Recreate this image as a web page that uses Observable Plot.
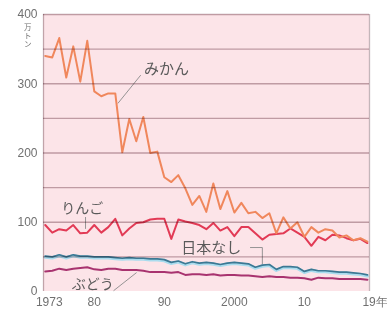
<!DOCTYPE html>
<html><head><meta charset="utf-8">
<script src="https://cdn.jsdelivr.net/npm/d3@7"></script>
<script src="https://cdn.jsdelivr.net/npm/@observablehq/plot@0.6"></script>
<style>
html,body{margin:0;padding:0;background:#fff;}
svg{display:block;}
</style>
</head><body>
<div id="chart"></div>
<script>
const years = [1973,1974,1975,1976,1977,1978,1979,1980,1981,1982,1983,1984,1985,1986,1987,1988,1989,1990,1991,1992,1993,1994,1995,1996,1997,1998,1999,2000,2001,2002,2003,2004,2005,2006,2007,2008,2009,2010,2011,2012,2013,2014,2015,2016,2017,2018,2019];
const mikan = [340,338,366,309,354,303,362,289,282,286,286,201,249,217,252,200,202,165,158,168,149,125,138,115,156,119,145,114,128,113,115,106,113,84,107,91,100,79,93,85,90,88,78,81,74,77,72];
const ringo = [96,85,90,88,96,84,85,96,85,93,105,81,91,99,100,104,105,105,76,104,101,99,96,90,99,88,93,80,93,93,84,75,82,83,84,91,85,79,66,79,74,82,81,77,74,76,70];
const nashi = [51,50,53,50,53,51,51,50,50,50,49,48,49,48,48,47,47,46,42,44,40,43,41,42,41,39,41,42,41,40,35,38,39,32,36,36,35,29,32,30,30,29,28,28,27,26,24];
const budo = [29,30,33,31,33,34,35,32,31,33,33,31,31,31,30,28,28,28,27,28,24,25,25,24,25,23,24,24,23,23,22,21,22,21,21,20,20,19,17,20,19,19,18,18,18,18,17];

const yTicks = [0,100,200,300,400];
const gridValues = [50,100,150,200,250,300,350,400];
const xTicks = [1980,1990,2000,2010];
const xTickLabels = {1973:"1973",1980:"80",1990:"90",2000:"2000",2010:"10",2019:"19年"};
const xEdges = [1972.75, 2019.3];

const labels = [
  {name:"みかん", year:1990.3, value:321, size:15},
  {name:"りんご", year:1978.3, value:120, size:14},
  {name:"日本なし", year:1996.7, value:62, size:15},
  {name:"ぶどう", year:1979.8, value:10, size:14}
];
const leaders = [
  {id:"みかん", pts:[[1986.6,312],[1983.4,272]]},
  {id:"りんご", pts:[[1978.75,107],[1978.75,91]]},
  {id:"日本なし", pts:[[2002.3,63.5],[2004.0,63.5],[2004.0,40]]},
  {id:"ぶどう", pts:[[1982.8,1.5],[1986.0,27]]}
];
const unitLabel = {text:"万\nト\nン", year:1970.5, value:369};

const rows = (vals) => years.map((y,i)=>({year:y, value:vals[i]}));
const leaderRows = leaders.flatMap(l => l.pts.map(p => ({id:l.id, year:p[0], value:p[1]})));

const chart = Plot.plot({
  width: 387,
  height: 313,
  marginLeft: 43,
  marginRight: 18,
  marginTop: 14,
  marginBottom: 22,
  style: {background:"#ffffff", fontFamily:"'Liberation Sans', Arial, sans-serif"},
  x: {domain:xEdges, label:null},
  y: {domain:[0,400], label:null},
  marks: [
    Plot.rect([{x1:xEdges[0], x2:xEdges[1], y1:0, y2:400}], {x1:"x1", x2:"x2", y1:"y1", y2:"y2", fill:"#fce4e8"}),
    Plot.axisY({ticks:yTicks, tickSize:0, tickPadding:6, fontSize:12, color:"#707070", label:null}),
    Plot.axisX({ticks:xTicks, tickSize:0, tickPadding:6, fontSize:12, color:"#707070", label:null, tickFormat:d=>xTickLabels[d]}),
    Plot.axisX({ticks:[1973], tickSize:0, tickPadding:6, fontSize:12, color:"#707070", label:null, dx:4, tickFormat:d=>xTickLabels[d]}),
    Plot.axisX({ticks:[2019], tickSize:0, tickPadding:6, fontSize:12, color:"#707070", label:null, textAnchor:"start", dx:-5, tickFormat:d=>xTickLabels[d]}),
    Plot.text([unitLabel], {x:"year", y:"value", text:"text", fontSize:7.5, lineHeight:1.1, fill:"#707070", fontFamily:"'Noto Sans CJK JP', sans-serif"}),
    Plot.line(leaderRows, {x:"year", y:"value", z:"id", stroke:"#8a8a8a", strokeWidth:0.9}),
    Plot.line(rows(budo), {x:"year", y:"value", stroke:"#a8336f", strokeWidth:2}),
    Plot.line(rows(nashi), {x:"year", y:"value", stroke:"#a9dcee", strokeWidth:3.2, dy:1}),
    Plot.line(rows(nashi), {x:"year", y:"value", stroke:"#3d7893", strokeWidth:1.7}),
    Plot.line(rows(ringo), {x:"year", y:"value", stroke:"#e23a55", strokeWidth:2}),
    Plot.line(rows(mikan), {x:"year", y:"value", stroke:"#f0875c", strokeWidth:2}),
    Plot.ruleY(gridValues, {stroke:"#c2adb3", strokeWidth:1.4, mixBlendMode:"multiply"}),
    Plot.ruleX(xEdges, {y1:0, y2:400, stroke:"#c4b6ba", strokeWidth:1.3, mixBlendMode:"multiply"}),
    Plot.text(labels.filter(d=>d.size===15), {x:"year", y:"value", text:"name", fontSize:15, fill:"#5a5a5a", fontFamily:"'Noto Sans CJK JP', sans-serif"}),
    Plot.text(labels.filter(d=>d.size===14), {x:"year", y:"value", text:"name", fontSize:14, fill:"#5a5a5a", fontFamily:"'Noto Sans CJK JP', sans-serif"})
  ]
});
document.getElementById("chart").appendChild(chart);
</script>
</body></html>
